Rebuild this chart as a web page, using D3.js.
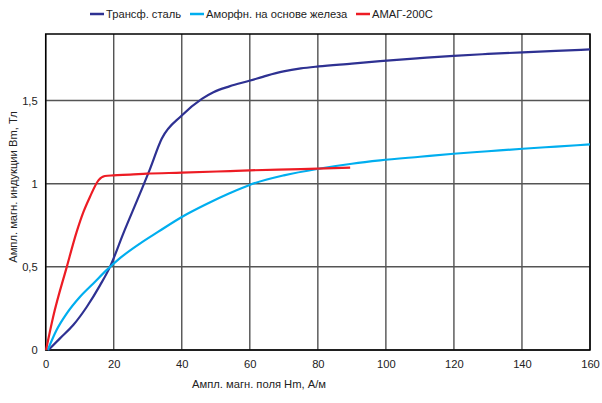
<!DOCTYPE html>
<html><head><meta charset="utf-8">
<script src="https://cdn.jsdelivr.net/npm/d3@7"></script>
<style>body{margin:0;background:#fff}svg{display:block;font-family:"Liberation Sans",Arial,sans-serif}</style>
</head><body><svg id="c" width="602" height="403"></svg>
<script>
const seriesNames = ["Трансф. сталь", "Аморфн. на основе железа", "АМАГ-200С"];
const seriesColors = ["#2E3192", "#00AEEF", "#ED1C24"];
const steelH = [0.8, 4.2, 8.1, 12.1, 16, 18.9, 22.8, 27.7, 30.5, 34.1, 40, 45.9, 49.3, 54, 60.1, 65, 69.9, 75, 80.2, 90, 98.3, 110, 119.9, 130, 140.2, 150, 160];
const steelB = [0, 0.07, 0.15, 0.26, 0.39, 0.5, 0.70, 0.94, 1.08, 1.27, 1.41, 1.51, 1.55, 1.585, 1.62, 1.65, 1.675, 1.693, 1.705, 1.722, 1.737, 1.755, 1.769, 1.78, 1.79, 1.799, 1.807];
const amorphH = [0.6, 3.2, 6.2, 10.1, 14, 17.9, 22, 27.7, 33, 40, 47, 54.2, 60.1, 70, 80.2, 90, 98.3, 110, 119.9, 130, 140.2, 150, 160];
const amorphB = [0, 0.12, 0.22, 0.32, 0.40, 0.48, 0.555, 0.64, 0.71, 0.80, 0.875, 0.944, 0.994, 1.05, 1.09, 1.12, 1.14, 1.162, 1.18, 1.195, 1.21, 1.223, 1.236];
const amagH = [0.1, 2.2, 6.2, 9.1, 11.1, 13, 15.5, 17.4, 19.9, 24.8, 29.7, 40, 54.2, 60, 75, 89.5];
const amagB = [0, 0.2, 0.5, 0.71, 0.83, 0.92, 1.02, 1.046, 1.05, 1.054, 1.06, 1.066, 1.076, 1.08, 1.088, 1.096];
const xTicks = [0, 20, 40, 60, 80, 100, 120, 140, 160];
const yTicks = [0, 0.5, 1, 1.5];
const xTitle = "Ампл. магн. поля Hm, А/м";
const yTitle = "Ампл. магн. индукции Bm, Тл";

const svg = d3.select("#c");
const L = 45.7, R = 590, T = 34, B = 350;
const FS = 11.2;
const x = d3.scaleLinear().domain([0, 160]).range([L, R]);
const y = d3.scaleLinear().domain([0, 1.9]).range([B, T]);
const fmt = v => String(v).replace(".", ",");

const g = svg.append("g");
g.selectAll(".vg").data(xTicks).join("line")
  .attr("x1", d => x(d)).attr("x2", d => x(d)).attr("y1", T).attr("y2", B)
  .attr("stroke", "#444").attr("stroke-width", 1.3);
g.selectAll(".hg").data(yTicks).join("line")
  .attr("x1", L).attr("x2", R).attr("y1", d => y(d)).attr("y2", d => y(d))
  .attr("stroke", "#555").attr("stroke-width", 1.5);
g.append("rect").attr("x", L).attr("y", T).attr("width", R - L).attr("height", B - T)
  .attr("fill", "none").attr("stroke", "#000").attr("stroke-width", 1.5);

const xa = svg.append("g").attr("transform", `translate(0,${B})`)
  .call(d3.axisBottom(x).tickValues(xTicks).tickSize(0).tickPadding(10).tickFormat(fmt));
const ya = svg.append("g").attr("transform", `translate(${L},0)`)
  .call(d3.axisLeft(y).tickValues(yTicks).tickSize(0).tickPadding(8).tickFormat(fmt));
[xa, ya].forEach(a => {
  a.select(".domain").remove();
  a.selectAll("text").attr("font-size", FS).attr("fill", "#222")
    .attr("font-family", '"Liberation Sans",Arial,sans-serif');
});

const data = [[steelH, steelB], [amorphH, amorphB], [amagH, amagB]];
const line = d3.line().x(d => x(d[0])).y(d => y(d[1])).curve(d3.curveMonotoneX);
data.forEach((s, i) => {
  const pts = s[0].map((h, j) => [h, s[1][j]]);
  svg.append("path").datum(pts).attr("d", line).attr("fill", "none")
    .attr("stroke", seriesColors[i]).attr("stroke-width", 2.2);
});

svg.append("text").attr("x", 259).attr("y", 388).attr("text-anchor", "middle")
  .attr("font-size", FS).attr("fill", "#222").text(xTitle);
svg.append("text").attr("transform", "translate(17,187) rotate(-90)").attr("text-anchor", "middle")
  .attr("font-size", FS).attr("fill", "#222").text(yTitle);

const legX = [90, 190, 356];
seriesNames.forEach((n, i) => {
  svg.append("line").attr("x1", legX[i]).attr("x2", legX[i] + 14).attr("y1", 14).attr("y2", 14)
    .attr("stroke", seriesColors[i]).attr("stroke-width", 2.5);
  svg.append("text").attr("x", legX[i] + 16).attr("y", 18).attr("font-size", FS)
    .attr("fill", "#222").text(n);
});
</script></body></html>
